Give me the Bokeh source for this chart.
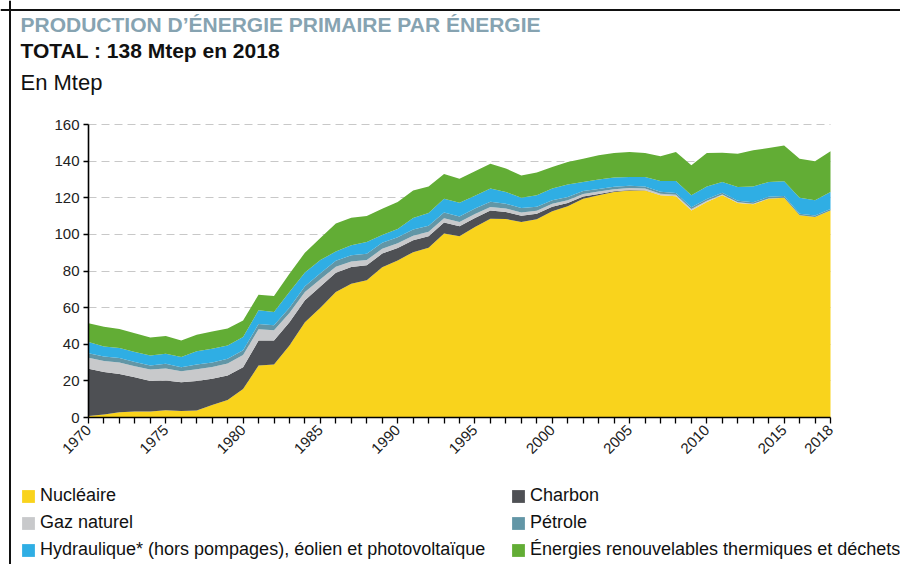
import math
from bokeh.plotting import figure
from bokeh.models import (ColumnDataSource, Range1d, FixedTicker, Label,
                          Legend, LegendItem, LinearAxis, Grid, Span)
from bokeh.embed import file_html
from bokeh.resources import INLINE

# ---------------- data (Mtep) ----------------
years = list(range(1970, 2019))

nucleaire = [0.8, 1.6, 2.9, 3.3, 3.3, 4.0, 3.6, 3.8, 6.8, 9.6,
             15.5, 28.4, 29.0, 39.3, 52.0, 60.0, 68.5, 73.0, 74.9, 82.0,
             85.8, 90.3, 92.7, 100.5, 99.0, 104.0, 108.5, 108.4, 106.7, 108.2,
             112.6, 115.3, 119.5, 121.3, 123.1, 124.0, 124.0, 121.3, 120.8, 113.1,
             117.7, 121.3, 117.1, 116.4, 119.5, 120.0, 110.4, 109.5, 113.1]

charbon = [25.8, 23.2, 20.9, 18.7, 16.6, 16.2, 15.7, 16.1, 14.3, 13.4,
           12.0, 13.6, 13.0, 12.7, 12.0, 11.5, 10.5, 9.2, 8.3, 7.5,
           6.8, 6.5, 6.3, 6.0, 5.5, 5.0, 4.5, 3.8, 3.5, 3.0,
           2.5, 1.8, 1.2, 0.8, 0.4, 0.2, 0.1, 0.0, 0.0, 0.0,
           0.0, 0.0, 0.0, 0.0, 0.0, 0.0, 0.0, 0.0, 0.0]

gaz = [6.0, 6.0, 6.2, 6.0, 6.3, 6.6, 6.0, 6.5, 6.5, 6.5,
       6.6, 6.2, 5.6, 5.0, 4.5, 4.0, 3.3, 3.0, 2.8, 2.6,
       2.5, 2.5, 2.4, 2.3, 2.2, 2.1, 2.0, 1.9, 1.8, 1.7,
       1.6, 1.5, 1.4, 1.3, 1.2, 1.1, 1.0, 0.9, 0.8, 0.7,
       0.6, 0.5, 0.4, 0.3, 0.1, 0.0, 0.0, 0.0, 0.0]

petrole = [2.5, 2.5, 2.5, 2.3, 2.2, 2.5, 2.2, 2.5, 2.5, 2.6,
           2.6, 2.8, 2.8, 3.0, 3.2, 3.3, 3.3, 3.4, 3.4, 3.3,
           3.3, 3.3, 3.3, 3.2, 3.1, 3.0, 2.8, 2.6, 2.4, 2.2,
           2.0, 1.8, 1.6, 1.4, 1.3, 1.2, 1.1, 1.1, 1.0, 1.0,
           1.0, 0.9, 0.9, 0.9, 0.9, 0.9, 0.9, 0.8, 0.8]

hydraulique = [6.1, 5.5, 5.5, 5.4, 5.5, 5.5, 5.5, 7.3, 7.4, 7.2,
               7.3, 7.5, 7.2, 8.5, 7.5, 7.2, 5.0, 5.5, 6.4, 4.3,
               4.6, 6.4, 7.0, 7.5, 7.5, 7.0, 7.2, 6.5, 5.6, 6.3,
               6.3, 6.8, 4.9, 5.1, 5.0, 4.8, 5.1, 5.8, 6.5, 6.5,
               6.9, 5.9, 7.5, 8.6, 8.1, 8.1, 8.7, 8.3, 9.2]

enr_thermiques = [10.3, 10.7, 10.3, 10.3, 9.8, 9.7, 9.0, 9.0, 9.4, 9.3,
                  9.0, 8.5, 8.7, 10.0, 10.8, 12.0, 15.4, 15.0, 14.2, 14.3,
                  14.7, 15.0, 14.5, 13.5, 13.1, 13.4, 13.6, 12.8, 12.2, 12.4,
                  11.8, 12.3, 12.7, 13.3, 13.5, 13.7, 13.2, 13.5, 15.9, 16.4,
                  18.3, 16.0, 18.1, 19.7, 18.6, 19.6, 21.3, 21.4, 22.3]

series_keys = ["nucleaire", "charbon", "gaz", "petrole", "hydraulique", "enr"]
series_names = ["Nucléaire", "Charbon", "Gaz naturel", "Pétrole",
                "Hydraulique* (hors pompages), éolien et photovoltaïque",
                "Énergies renouvelables thermiques et déchets"]
series_colors = ["#F9D31C", "#4E5054", "#C8C9CB", "#6296A6", "#2FAEE4", "#62AD35"]

x_labelled = [1970, 1975, 1980, 1985, 1990, 1995, 2000, 2005, 2010, 2015, 2018]
y_ticks = [0, 20, 40, 60, 80, 100, 120, 140, 160]

title_text = "PRODUCTION D\u2019ÉNERGIE PRIMAIRE PAR ÉNERGIE"
subtitle_text = "TOTAL : 138 Mtep en 2018"
unit_text = "En Mtep"

# ---------------- geometry (canvas pixels == picture pixels) ----------------
W, H = 900, 564
X0_PX, X1_PX = 88, 830      # 1970 .. 2018
Y0_PX, Y1_PX = 417, 124     # 0 .. 160
XMIN, XMAX, YMIN, YMAX = 1970, 2018, 0, 160
kx = (XMAX - XMIN) / (X1_PX - X0_PX)
ky = (YMAX - YMIN) / (Y0_PX - Y1_PX)
x_start = XMIN - X0_PX * kx
x_end = XMAX + (W - X1_PX) * kx
y_start = YMIN - (H - Y0_PX) * ky
y_end = YMAX + Y1_PX * ky


def dx(px):
    return XMIN + (px - X0_PX) * kx


def dy(py):
    return YMIN + (Y0_PX - py) * ky


source = ColumnDataSource(dict(year=years, nucleaire=nucleaire, charbon=charbon,
                               gaz=gaz, petrole=petrole, hydraulique=hydraulique,
                               enr=enr_thermiques))

FONT = "Liberation Sans"

p = figure(width=W, height=H, x_range=Range1d(x_start, x_end),
           y_range=Range1d(y_start, y_end),
           output_backend="svg", toolbar_location=None,
           x_axis_location=None, y_axis_location=None, min_border=0)
p.outline_line_color = None
p.background_fill_color = "white"
p.border_fill_color = "white"
p.xgrid.visible = False
p.ygrid.visible = False

# frame lines of the original figure box (left and top)
p.add_layout(Span(location=dx(9.5), dimension="height", line_color="#111111",
                  line_width=2))
p.add_layout(Span(location=dy(9.5), dimension="width", line_color="#111111",
                  line_width=2))

grid = Grid(dimension=1, ticker=FixedTicker(ticks=y_ticks[1:]),
            bounds=(YMIN, YMAX), cross_bounds=(XMIN, XMAX),
            grid_line_color="#C8C8C8", grid_line_width=1.2,
            grid_line_dash="8 5")
p.add_layout(grid, "center")

rends = p.varea_stack(stackers=series_keys, x="year", color=series_colors,
                      source=source)

xaxis = LinearAxis(fixed_location=0, bounds=(XMIN, XMAX),
                   ticker=FixedTicker(ticks=years))
xaxis.major_label_overrides = {y: (str(y) if y in x_labelled else "") for y in years}
xaxis.major_label_orientation = math.pi / 4
xaxis.major_tick_out = 6
yaxis = LinearAxis(fixed_location=XMIN, bounds=(YMIN, YMAX),
                   ticker=FixedTicker(ticks=y_ticks))
yaxis.major_tick_out = 5
for ax in (xaxis, yaxis):
    ax.axis_line_color = "black"
    ax.axis_line_width = 1.6
    ax.major_tick_line_color = "black"
    ax.major_tick_line_width = 1.3
    ax.major_tick_in = 0
    ax.minor_tick_line_color = None
    ax.major_label_text_font = FONT
    ax.major_label_text_font_size = "15px"
    ax.major_label_text_color = "#222222"
    ax.major_label_standoff = 4
p.add_layout(xaxis, "below")
p.add_layout(yaxis, "left")

# ---------------- texts ----------------
p.add_layout(Label(x=dx(20), y=dy(24), text=title_text, text_font=FONT,
                   text_font_style="bold", text_font_size="21px",
                   text_color="#86A3B1", text_baseline="alphabetic"))
p.add_layout(Label(x=dx(20), y=dy(50), text=subtitle_text, text_font=FONT,
                   text_font_style="bold", text_font_size="21px",
                   text_color="#111111", text_baseline="alphabetic"))
p.add_layout(Label(x=dx(20), y=dy(82), text=unit_text, text_font=FONT,
                   text_font_size="22px", text_color="#111111",
                   text_baseline="alphabetic"))


# ---------------- legends ----------------
def make_legend(idx, px):
    items = [LegendItem(label=series_names[i], renderers=[rends[i]]) for i in idx]
    return Legend(items=items, location=(px, H - 560),
                  glyph_width=16, glyph_height=16, label_height=16,
                  label_standoff=4, spacing=6, padding=0, margin=0,
                  border_line_alpha=0, background_fill_alpha=0,
                  label_text_font=FONT, label_text_font_size="18px",
                  label_text_color="#111111")


p.add_layout(make_legend([0, 2, 4], 20), "center")
p.add_layout(make_legend([1, 3, 5], 510), "center")

open("out.html", "w").write(file_html(p, INLINE))
